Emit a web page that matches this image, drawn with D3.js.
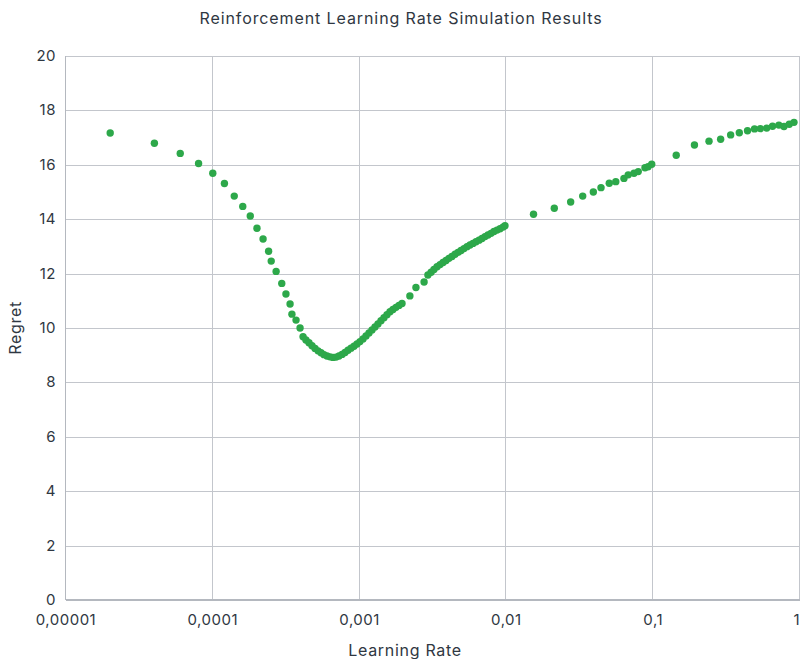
<!DOCTYPE html>
<html>
<head>
<meta charset="utf-8">
<script src="https://cdn.jsdelivr.net/npm/d3@7"></script>
<style>
  body { margin: 0; background: #fff; }
  svg { display: block; font-family: Inter, "Noto Sans", sans-serif; }
  .grid line { stroke: #c3c6cc; stroke-width: 1; }
  .axis-line { stroke: #b4b8bf; stroke-width: 2; }
  .tick-label { fill: #2f3742; font-size: 15px; letter-spacing: 0.5px; }
  .title { fill: #2f3742; font-size: 16px; letter-spacing: 0.9px; }
  .axis-title { fill: #2f3742; font-size: 16px; letter-spacing: 0.7px; }
  .dot { fill: #2da84a; }
</style>
</head>
<body>
<script>

// Learning rate (x) and regret (y).
var learningRates = [
  2e-5, 4e-5, 6e-5, 8e-5, 1e-4, 1.2e-4, 1.4e-4, 1.6e-4, 1.8e-4, 2e-4,
  2.2e-4, 2.4e-4, 2.5e-4, 2.7e-4, 2.95e-4, 3.15e-4, 3.36e-4, 3.46e-4, 3.69e-4, 3.93e-4,
  4.12e-4, 4.31e-4, 4.52e-4, 4.74e-4, 4.97e-4, 5.21e-4, 5.46e-4, 5.72e-4, 6.0e-4, 6.29e-4,
  6.59e-4, 6.91e-4, 7.24e-4, 7.59e-4, 7.96e-4, 8.34e-4, 8.74e-4, 9.16e-4, 9.6e-4, 1.006e-3,
  1.055e-3, 1.106e-3, 1.159e-3, 1.215e-3, 1.273e-3, 1.334e-3, 1.399e-3, 1.466e-3, 1.536e-3, 1.611e-3,
  1.688e-3, 1.77e-3, 1.855e-3, 1.945e-3,
  2.2e-3, 2.42e-3, 2.75e-3,
  2.92e-3, 3.07e-3, 3.21e-3, 3.37e-3, 3.53e-3, 3.7e-3, 3.88e-3, 4.06e-3, 4.26e-3, 4.47e-3,
  4.68e-3, 4.91e-3, 5.14e-3, 5.39e-3, 5.65e-3, 5.92e-3, 6.21e-3, 6.51e-3, 6.82e-3, 7.15e-3,
  7.49e-3, 7.85e-3, 8.23e-3, 8.63e-3, 9.05e-3, 9.48e-3, 9.78e-3,
  0.0153, 0.0212, 0.0274, 0.0331, 0.0391, 0.0441, 0.0502, 0.0556, 0.0632, 0.0676,
  0.074, 0.0791, 0.0879, 0.0923, 0.0977,
  0.1435, 0.191, 0.24, 0.288, 0.337, 0.386, 0.439, 0.49, 0.537, 0.593,
  0.65, 0.718, 0.778, 0.845, 0.91
];

var regrets = [
  17.17, 16.79, 16.42, 16.05, 15.69, 15.31, 14.85, 14.47, 14.12, 13.67,
  13.27, 12.82, 12.46, 12.08, 11.64, 11.25, 10.88, 10.51, 10.29, 10.0,
  9.68, 9.56, 9.46, 9.35, 9.25, 9.16, 9.09, 9.02, 8.97, 8.94,
  8.92, 8.93, 8.97, 9.03, 9.1, 9.18, 9.26, 9.33, 9.41, 9.5,
  9.6, 9.71, 9.82, 9.93, 10.04, 10.15, 10.27, 10.38, 10.49, 10.6,
  10.68, 10.76, 10.83, 10.9,
  11.18, 11.49, 11.69,
  11.95, 12.05, 12.15, 12.25, 12.33, 12.41, 12.48, 12.56, 12.63, 12.71,
  12.78, 12.85, 12.92, 12.99, 13.05, 13.11, 13.17, 13.23, 13.29, 13.36,
  13.42, 13.48, 13.55, 13.6, 13.65, 13.71, 13.76,
  14.18, 14.4, 14.63, 14.85, 15.0, 15.16, 15.32, 15.38, 15.5, 15.63,
  15.69, 15.75, 15.89, 15.93, 16.02,
  16.35, 16.73, 16.87, 16.94, 17.1, 17.18, 17.25, 17.32, 17.33, 17.35,
  17.42, 17.46, 17.41, 17.49, 17.56
];

// Axis ticks.
var xTicks = [1e-5, 1e-4, 1e-3, 1e-2, 1e-1, 1];
var xTickLabels = ['0,00001', '0,0001', '0,001', '0,01', '0,1', '1'];
var yTicks = [0, 2, 4, 6, 8, 10, 12, 14, 16, 18, 20];

// Texts.
var chartTitle = 'Reinforcement Learning Rate Simulation Results';
var xTitle = 'Learning Rate';
var yTitle = 'Regret';

/*
 * Build the chart.
 */
var width = 801;
var height = 659;
var margin = { top: 56, right: 1, bottom: 59, left: 66 };

var svg = d3.select('body').append('svg')
  .attr('width', width)
  .attr('height', height);

var x = d3.scaleLog()
  .domain([1e-5, 1])
  .range([margin.left, width - margin.right]);

var y = d3.scaleLinear()
  .domain([0, 20])
  .range([height - margin.bottom, margin.top]);

// Grid lines.
var grid = svg.append('g').attr('class', 'grid');

grid.selectAll('line.h')
  .data(yTicks.filter(function(d) { return d > 0; }))
  .enter().append('line')
  .attr('class', 'h')
  .attr('x1', x.range()[0])
  .attr('x2', x.range()[1])
  .attr('y1', function(d) { return Math.round(y(d)) + 0.5; })
  .attr('y2', function(d) { return Math.round(y(d)) + 0.5; });

grid.selectAll('line.v')
  .data(xTicks.slice(1))
  .enter().append('line')
  .attr('class', 'v')
  .attr('x1', function(d) { return Math.round(x(d)) - 0.5; })
  .attr('x2', function(d) { return Math.round(x(d)) - 0.5; })
  .attr('y1', y.range()[1])
  .attr('y2', y.range()[0]);

// Axis lines.
svg.append('line')
  .attr('class', 'axis-line')
  .attr('x1', x.range()[0]).attr('x2', x.range()[1])
  .attr('y1', y(0)).attr('y2', y(0));

svg.append('line')
  .attr('class', 'axis-line')
  .style('stroke-width', 1)
  .attr('x1', x.range()[0] - 0.5).attr('x2', x.range()[0] - 0.5)
  .attr('y1', y.range()[1]).attr('y2', y.range()[0]);

// Tick labels.
svg.selectAll('text.ylab')
  .data(yTicks)
  .enter().append('text')
  .attr('class', 'tick-label ylab')
  .attr('x', margin.left - 10)
  .attr('y', function(d) { return y(d); })
  .attr('dy', '0.33em')
  .attr('text-anchor', 'end')
  .text(function(d) { return d; });

svg.selectAll('text.xlab')
  .data(xTicks)
  .enter().append('text')
  .attr('class', 'tick-label xlab')
  .attr('x', function(d) { return x(d); })
  .attr('y', y(0) + 25)
  .attr('text-anchor', function(d, i) { return i === xTicks.length - 1 ? 'end' : 'middle'; })
  .text(function(d, i) { return xTickLabels[i]; });

// Points.
svg.append('g').selectAll('circle')
  .data(d3.zip(learningRates, regrets))
  .enter().append('circle')
  .attr('class', 'dot')
  .attr('cx', function(d) { return x(d[0]); })
  .attr('cy', function(d) { return y(d[1]); })
  .attr('r', 3.7);

// Titles.
svg.append('text')
  .attr('class', 'title')
  .attr('x', 401)
  .attr('y', 24)
  .attr('text-anchor', 'middle')
  .text(chartTitle);

svg.append('text')
  .attr('class', 'axis-title')
  .attr('x', 405)
  .attr('y', 656)
  .attr('text-anchor', 'middle')
  .text(xTitle);

svg.append('text')
  .attr('class', 'axis-title')
  .attr('transform', 'translate(21,' + ((y.range()[0] + y.range()[1]) / 2) + ') rotate(-90)')
  .attr('text-anchor', 'middle')
  .text(yTitle);

</script>
</body>
</html>
